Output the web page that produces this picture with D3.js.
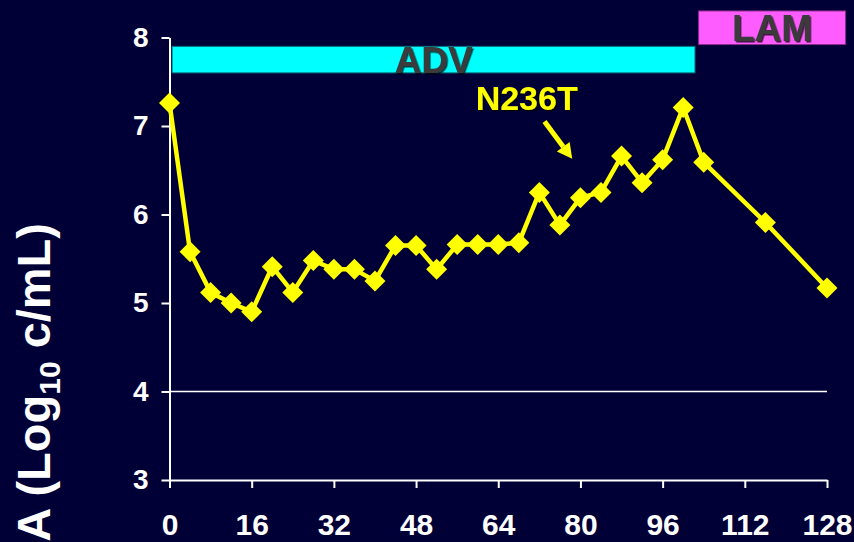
<!DOCTYPE html>
<html>
<head>
<meta charset="utf-8">
<script src="https://cdn.jsdelivr.net/npm/d3@7"></script>
<style>
  html, body { margin: 0; padding: 0; background: #000036; }
  svg { display: block; }
  text { font-family: "Liberation Sans", Arial, Helvetica, sans-serif; font-weight: bold; }
</style>
</head>
<body>
<svg id="chart" width="854" height="542"></svg>
<script>
// ---- data ----
const weeks = [0, 4, 8, 12, 16, 20, 24, 28, 32, 36, 40, 44, 48, 52, 56, 60, 64, 68, 72, 76, 80, 84, 88, 92, 96, 100, 104, 116, 128];
const viralLoad = [7.26, 5.58, 5.12, 5.00, 4.90, 5.41, 5.12, 5.48, 5.38, 5.38, 5.25, 5.65, 5.65, 5.38, 5.66, 5.66, 5.66, 5.68, 6.25, 5.88, 6.19, 6.25, 6.66, 6.36, 6.62, 7.21, 6.59, 5.91, 5.17];
const xTicks = [0, 16, 32, 48, 64, 80, 96, 112, 128];
const yTicks = [3, 4, 5, 6, 7, 8];
const treatments = ["ADV", "LAM"];
const treatStart = [0.5, 103];
const treatEnd = [102.3, 131.6];
const treatTop = [7.9, 8.3];
const treatBottom = [7.6, 7.92];
const treatColor = ["#00FFFF", "#FF5CFF"];
const mutationLabel = "N236T";

// ---- layout ----
const svg = d3.select("#chart");
const x = d3.scaleLinear().domain([0, 128]).range([169.5, 827]);
const y = d3.scaleLinear().domain([3, 8]).range([480, 37.5]);

const defs = svg.append("defs");
defs.append("filter").attr("id", "shadow").attr("x", "-10%").attr("y", "-10%").attr("width", "130%").attr("height", "130%")
  .append("feDropShadow").attr("dx", 1.5).attr("dy", 1.5).attr("stdDeviation", 0.3)
  .attr("flood-color", "#000000").attr("flood-opacity", 0.75);

svg.append("rect").attr("width", 854).attr("height", 542).attr("fill", "#000036");

// treatment bars
treatments.forEach((t, i) => {
  svg.append("rect")
    .attr("x", x(treatStart[i])).attr("y", y(treatTop[i]))
    .attr("width", x(treatEnd[i]) - x(treatStart[i]))
    .attr("height", y(treatBottom[i]) - y(treatTop[i]))
    .attr("fill", treatColor[i])
    .attr("stroke", i === 0 ? "#0a6a78" : "#8a2a8a").attr("stroke-width", 1);
  const cx = (x(treatStart[i]) + x(treatEnd[i])) / 2;
  const cy = (y(treatTop[i]) + y(treatBottom[i])) / 2;
  svg.append("text")
    .attr("x", cx).attr("y", cy + 13)
    .attr("text-anchor", "middle")
    .attr("font-size", 37)
    .attr("fill", "#3a3a3a")
    .attr("filter", "url(#shadow)")
    .text(t);
});

// gridline at 4
svg.append("line")
  .attr("x1", x(0)).attr("x2", x(128))
  .attr("y1", y(4)).attr("y2", y(4))
  .attr("stroke", "#ffffff").attr("stroke-width", 1.5);

// axes
const xAxis = d3.axisBottom(x).tickValues(xTicks).tickSize(8).tickPadding(26).tickSizeOuter(0).tickFormat(d3.format("d"));
const gx = svg.append("g").attr("transform", `translate(0,${y(3)})`).call(xAxis);
const yAxis = d3.axisLeft(y).tickValues(yTicks).tickSize(8).tickPadding(13).tickSizeOuter(0).tickFormat(d3.format("d"));
const gy = svg.append("g").attr("transform", `translate(${x(0)},0)`).call(yAxis);
[gx, gy].forEach(g => {
  g.select(".domain").attr("stroke", "#fff").attr("stroke-width", 2);
  g.selectAll(".tick line").attr("stroke", "#fff").attr("stroke-width", 2);
  g.selectAll(".tick text").attr("fill", "#fff")
    .attr("font-family", "'Liberation Sans', Arial, sans-serif").attr("font-weight", "bold");
});
gx.selectAll(".tick text").attr("font-size", 30);
gy.selectAll(".tick text").attr("font-size", 28);

// line
const pts = weeks.map((w, i) => [w, viralLoad[i]]);
svg.append("path")
  .datum(pts)
  .attr("fill", "none")
  .attr("stroke", "#FFFF00")
  .attr("stroke-width", 4.5)
  .attr("stroke-linejoin", "round")
  .attr("d", d3.line().x(d => x(d[0])).y(d => y(d[1])));

svg.selectAll(".pt")
  .data(pts).enter().append("path")
  .attr("class", "pt")
  .attr("transform", d => `translate(${x(d[0])},${y(d[1])})`)
  .attr("d", "M0,-10.5L10.5,0L0,10.5L-10.5,0Z")
  .attr("fill", "#FFFF00");

// annotation N236T + arrow
svg.append("text").attr("x", x(59.6)).attr("y", y(7.18))
  .attr("font-size", 34).attr("fill", "#FFFF00")
  .attr("filter", "url(#shadow)")
  .text(mutationLabel);

const a0 = [x(73), y(7.05)], a1 = [x(78.4), y(6.63)];
const ang = Math.atan2(a1[1] - a0[1], a1[0] - a0[0]);
const headLen = 15, headW = 8;
const base = [a1[0] - headLen * Math.cos(ang), a1[1] - headLen * Math.sin(ang)];
svg.append("line")
  .attr("x1", a0[0]).attr("y1", a0[1]).attr("x2", base[0]).attr("y2", base[1])
  .attr("stroke", "#FFFF00").attr("stroke-width", 5);
svg.append("path")
  .attr("d", `M${a1[0]},${a1[1]}L${base[0] + headW * Math.sin(ang)},${base[1] - headW * Math.cos(ang)}L${base[0] - headW * Math.sin(ang)},${base[1] + headW * Math.cos(ang)}Z`)
  .attr("fill", "#FFFF00");

// y title (rotated)
const yt = svg.append("text")
  .attr("transform", "translate(50,223) rotate(-90)")
  .attr("text-anchor", "end")
  .attr("font-size", 47)
  .attr("fill", "#ffffff");
yt.append("tspan").text("A (Log");
yt.append("tspan").attr("font-size", 30).attr("dy", 10).text("10");
yt.append("tspan").attr("dy", -10).text(" c/mL)");
</script>
</body>
</html>
